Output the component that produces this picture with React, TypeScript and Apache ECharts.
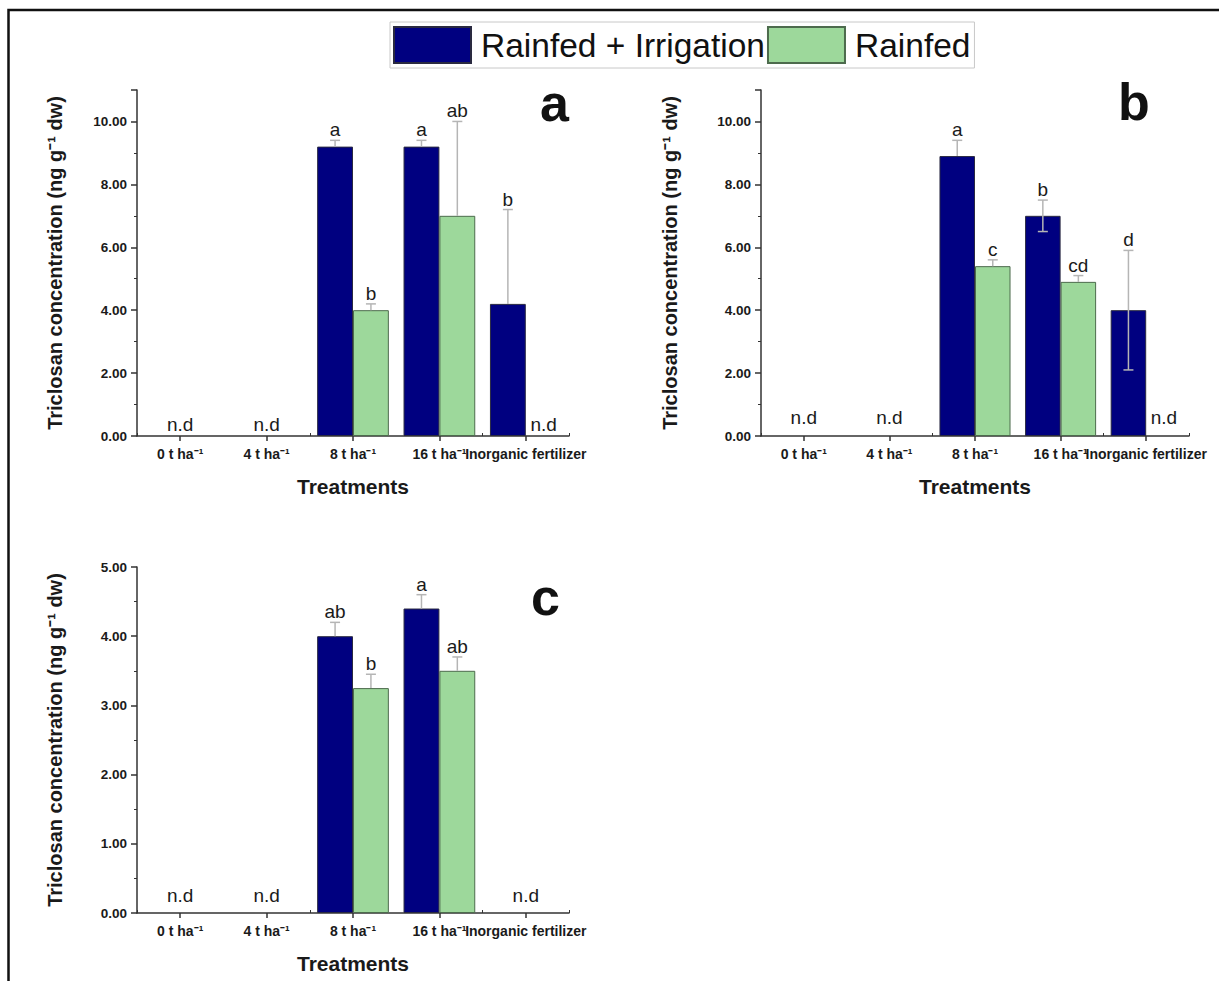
import React, { useEffect, useRef } from 'react';
import * as echarts from 'echarts';

const FONT = '"Liberation Sans", Arial, Helvetica, sans-serif';

const categories = ['0 t ha⁻¹', '4 t ha⁻¹', '8 t ha⁻¹', '16 t ha⁻¹', 'Inorganic fertilizer'];
const seriesNames = ['Rainfed + Irrigation', 'Rainfed'];
const yAxisTitle = 'Triclosan concentration (ng g⁻¹ dw)';
const xAxisTitle = 'Treatments';

// Panel a
const aIrrig = [null, null, 9.2, 9.2, 4.2];
const aRain = [null, null, 4.0, 7.0, null];
const aIrrigUp = [0, 0, 0.2, 0.2, 3.0];
const aRainUp = [0, 0, 0.2, 3.0, 0];
const aIrrigDown = [0, 0, 0, 0, 0];
const aRainDown = [0, 0, 0, 0, 0];
const aIrrigLetters = ['', '', 'a', 'a', 'b'];
const aRainLetters = ['', '', 'b', 'ab', ''];

// Panel b
const bIrrig = [null, null, 8.9, 7.0, 4.0];
const bRain = [null, null, 5.4, 4.9, null];
const bIrrigUp = [0, 0, 0.5, 0.5, 1.9];
const bRainUp = [0, 0, 0.2, 0.2, 0];
const bIrrigDown = [0, 0, 0, 0.5, 1.9];
const bRainDown = [0, 0, 0, 0, 0];
const bIrrigLetters = ['', '', 'a', 'b', 'd'];
const bRainLetters = ['', '', 'c', 'cd', ''];

// Panel c
const cIrrig = [null, null, 4.0, 4.4, null];
const cRain = [null, null, 3.25, 3.5, null];
const cIrrigUp = [0, 0, 0.2, 0.2, 0];
const cRainUp = [0, 0, 0.2, 0.2, 0];
const cIrrigDown = [0, 0, 0, 0, 0];
const cRainDown = [0, 0, 0, 0, 0];
const cIrrigLetters = ['', '', 'ab', 'a', ''];
const cRainLetters = ['', '', 'b', 'ab', ''];

const BLUE = '#000080';
const GREEN = '#9dd89b';
const CAT_GAP = 0.17;

type Panel = {
  tag: string;
  irrig: (number | null)[];
  rain: (number | null)[];
  irrigUp: number[];
  rainUp: number[];
  irrigDown: number[];
  rainDown: number[];
  irrigLetters: string[];
  rainLetters: string[];
  max: number;
  interval: number;
  grid: { left: number; top: number; width: number; height: number };
  yNameGap: number;
  ndLift: number;
  tagPos: [number, number];
};

const panels: Panel[] = [
  {
    tag: 'a', irrig: aIrrig, rain: aRain, irrigUp: aIrrigUp, rainUp: aRainUp,
    irrigDown: aIrrigDown, rainDown: aRainDown, irrigLetters: aIrrigLetters, rainLetters: aRainLetters,
    max: 11, interval: 2, grid: { left: 137, top: 90, width: 432, height: 346 }, yNameGap: 72, ndLift: 2,
    tagPos: [556, 110],
  },
  {
    tag: 'b', irrig: bIrrig, rain: bRain, irrigUp: bIrrigUp, rainUp: bRainUp,
    irrigDown: bIrrigDown, rainDown: bRainDown, irrigLetters: bIrrigLetters, rainLetters: bRainLetters,
    max: 11, interval: 2, grid: { left: 761, top: 90, width: 428, height: 346 }, yNameGap: 81, ndLift: 9,
    tagPos: [1134, 109],
  },
  {
    tag: 'c', irrig: cIrrig, rain: cRain, irrigUp: cIrrigUp, rainUp: cRainUp,
    irrigDown: cIrrigDown, rainDown: cRainDown, irrigLetters: cIrrigLetters, rainLetters: cRainLetters,
    max: 5, interval: 1, grid: { left: 137, top: 567, width: 432, height: 346 }, yNameGap: 72, ndLift: 8,
    tagPos: [547, 604],
  },
];

type Rec = { cat: number; side: number; value: number; up: number; down: number; letter: string; nd: boolean };

function buildRecs(p: Panel): Rec[] {
  const recs: Rec[] = [];
  categories.forEach((_, i) => {
    const a = p.irrig[i];
    const b = p.rain[i];
    if (a == null && b == null) {
      recs.push({ cat: i, side: 0, value: 0, up: 0, down: 0, letter: '', nd: true });
      return;
    }
    if (a == null) recs.push({ cat: i, side: -1, value: 0, up: 0, down: 0, letter: '', nd: true });
    else recs.push({ cat: i, side: -1, value: a, up: p.irrigUp[i], down: p.irrigDown[i], letter: p.irrigLetters[i], nd: false });
    if (b == null) recs.push({ cat: i, side: 1, value: 0, up: 0, down: 0, letter: '', nd: true });
    else recs.push({ cat: i, side: 1, value: b, up: p.rainUp[i], down: p.rainDown[i], letter: p.rainLetters[i], nd: false });
  });
  return recs;
}

function buildOption() {
  const grid: any[] = [];
  const xAxis: any[] = [];
  const yAxis: any[] = [];
  const series: any[] = [];
  const graphic: any[] = [];

  const axisColor = '#333';
  const textColor = '#1a1a1a';

  panels.forEach((p, i) => {
    grid.push({ ...p.grid, containLabel: false });
    xAxis.push({
      type: 'category', gridIndex: i, data: categories,
      axisLine: { show: true, lineStyle: { color: axisColor, width: 1.5 } },
      axisTick: { show: true, alignWithLabel: true, length: 5, lineStyle: { color: axisColor, width: 1.5 } },
      axisLabel: { interval: 0, fontWeight: 'bold', fontSize: 14, color: textColor, margin: 11, fontFamily: FONT },
      name: xAxisTitle, nameLocation: 'middle', nameGap: 40,
      nameTextStyle: { fontWeight: 'bold', fontSize: 21, color: textColor, fontFamily: FONT },
      splitLine: { show: false },
    });
    xAxis.push({
      type: 'category', gridIndex: i, data: categories, position: 'bottom', offset: 0,
      axisLine: { show: false },
      axisTick: { show: true, inside: true, length: 3, lineStyle: { color: axisColor, width: 1 } },
      axisLabel: { show: false },
      splitLine: { show: false },
    });
    yAxis.push({
      type: 'value', gridIndex: i, min: 0, max: p.max, interval: p.interval,
      axisLine: { show: true, lineStyle: { color: axisColor, width: 1.5 } },
      axisTick: { show: true, length: 6, lineStyle: { color: axisColor, width: 1.5 } },
      minorTick: { show: true, splitNumber: 2, length: 3, lineStyle: { color: axisColor, width: 1 } },
      splitLine: { show: false },
      minorSplitLine: { show: false },
      axisLabel: {
        formatter: (v: number) => v.toFixed(2), fontWeight: 'bold', fontSize: 13.5, color: textColor,
        fontFamily: FONT, margin: 10, showMaxLabel: p.max % p.interval === 0,
      },
      name: yAxisTitle, nameLocation: 'middle', nameGap: p.yNameGap,
      nameTextStyle: { fontWeight: 'bold', fontSize: 20, color: textColor, fontFamily: FONT },
    });

    series.push({
      type: 'bar', name: seriesNames[0], xAxisIndex: 2 * i, yAxisIndex: i, data: p.irrig,
      barGap: '0%', barCategoryGap: `${CAT_GAP * 100}%`,
      itemStyle: { color: BLUE, borderColor: '#2a2a40', borderWidth: 1 },
    });
    series.push({
      type: 'bar', name: seriesNames[1], xAxisIndex: 2 * i, yAxisIndex: i, data: p.rain,
      barGap: '0%', barCategoryGap: `${CAT_GAP * 100}%`,
      itemStyle: { color: GREEN, borderColor: '#4d6b4d', borderWidth: 1 },
    });

    const recs = buildRecs(p);
    series.push({
      type: 'custom', xAxisIndex: 2 * i, yAxisIndex: i, z: 5, clip: false,
      data: recs.map((r) => [r.cat, r.value + r.up]),
      encode: { x: 0, y: 1 },
      renderItem: (params: any, api: any) => {
        const r = recs[params.dataIndex];
        const band = api.size([1, 0])[0];
        const bw = (band * (1 - CAT_GAP)) / 2;
        const base = api.coord([r.cat, 0]);
        const x = base[0] + (r.side * bw) / 2;
        if (r.nd) {
          return {
            type: 'text', x, y: base[1] - p.ndLift,
            style: { text: 'n.d', fontSize: 19, fontFamily: FONT, fill: textColor, align: 'center', verticalAlign: 'bottom' },
          };
        }
        const top = api.coord([r.cat, r.value + r.up])[1];
        const bot = api.coord([r.cat, r.value - r.down])[1];
        const lineStyle = { stroke: '#b5b5b5', lineWidth: 1.5 };
        const children: any[] = [
          { type: 'line', shape: { x1: x, y1: bot, x2: x, y2: top }, style: lineStyle },
          { type: 'line', shape: { x1: x - 5, y1: top, x2: x + 5, y2: top }, style: lineStyle },
        ];
        if (r.down > 0) {
          children.push({ type: 'line', shape: { x1: x - 5, y1: bot, x2: x + 5, y2: bot }, style: lineStyle });
        }
        if (r.letter) {
          children.push({
            type: 'text', x, y: top - 1,
            style: { text: r.letter, fontSize: 19, fontFamily: FONT, fill: textColor, align: 'center', verticalAlign: 'bottom' },
          });
        }
        return { type: 'group', children };
      },
    });

    graphic.push({
      type: 'text', left: p.tagPos[0] - 16, top: p.tagPos[1] - 33,
      style: { text: p.tag, fontSize: 52, fontWeight: 'bold', fontFamily: FONT, fill: '#111' },
    });
  });

  graphic.push({
    type: 'polyline',
    shape: { points: [[8.5, 981], [8.5, 10], [1219, 10]] },
    style: { stroke: '#111', lineWidth: 2.5, fill: 'none' },
  });

  return {
    animation: false,
    backgroundColor: '#ffffff',
    legend: {
      data: seriesNames, left: 390, top: 22, orient: 'horizontal',
      itemWidth: 77, itemHeight: 36, itemGap: 2, padding: [4, 4, 4, 3],
      borderColor: '#c8c8c8', borderWidth: 1, icon: 'rect',
      textStyle: { fontSize: 33.5, fontFamily: FONT, color: '#111', padding: [0, 0, 0, 5] },
    },
    grid, xAxis, yAxis, series, graphic,
  };
}

export default function App() {
  const ref = useRef<HTMLDivElement>(null);
  useEffect(() => {
    document.body.style.margin = '0';
    if (!ref.current) return;
    const chart = echarts.init(ref.current, undefined, { renderer: 'svg' });
    chart.setOption(buildOption() as any);
    return () => chart.dispose();
  }, []);
  return <div ref={ref} style={{ width: 1219, height: 981 }} />;
}
